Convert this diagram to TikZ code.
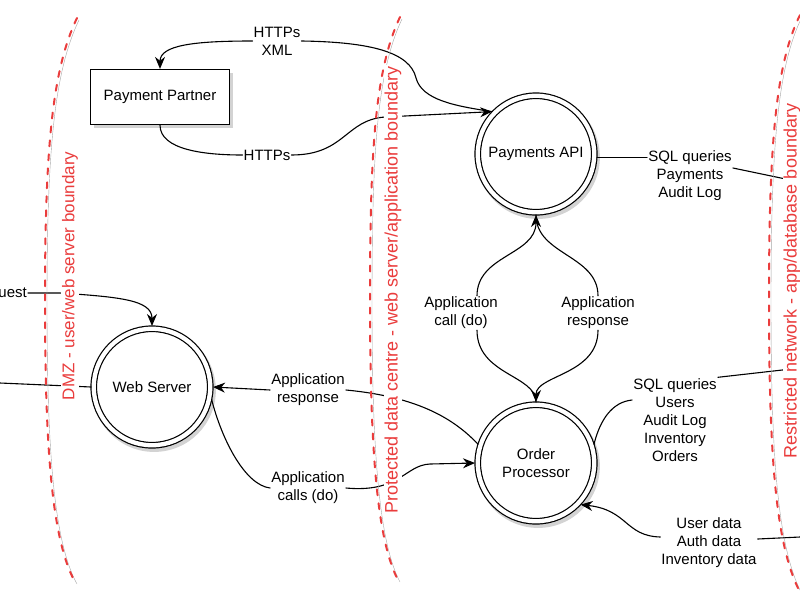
\documentclass[tikz,border=0pt]{standalone}
\usepackage{fontspec}
\setmainfont{Liberation Sans}
\usepackage{tikz}
\usetikzlibrary{arrows.meta}
\usetikzlibrary{shadows}

\begin{document}
\begin{tikzpicture}
	[x=1pt,y=-1pt,line cap=round,
	%Styles
	flow/.style={draw=black,line width=1.1pt},
	flow tip/.style={-{Stealth[length=12pt,width=10pt]}},
	flow text/.style={align=center,inner sep=1pt,font=\fontsize{15}{18}\selectfont},
	process/.style={circle,draw,double,double distance=4.3pt,line width=1.2pt,
		minimum size=116.5pt,outer sep=2.75pt,fill=white,align=center,
		font=\fontsize{15}{18}\selectfont,
		drop shadow={shadow xshift=2pt,shadow yshift=-3pt,shadow scale=1.06,opacity=0.35}},
	external entity/.style={rectangle,draw,line width=1.2pt,minimum width=139pt,
		minimum height=55pt,fill=white,font=\fontsize{15}{18}\selectfont,
		drop shadow={shadow xshift=3pt,shadow yshift=-3pt,opacity=0.35}},
	trust boundary/.style={draw=boundaryred,line width=2pt,dash pattern=on 6pt off 8pt,
		preaction={draw=black!35,transform canvas={shift={(2pt,-2pt)}}}},
	boundary text/.style={rotate=90,fill=white,inner sep=1pt,text=boundaryred,
		font=\fontsize{18}{20}\selectfont}
	]

	%Colors
	\definecolor{boundaryred}{RGB}{234,60,60}

	\useasboundingbox (0,0) rectangle (800,600);

	%The graphic
	\node[external entity] (partner) at (160,97) {Payment Partner};
	\node[process] (payapi) at (536,154) {Payments API};
	\node[process] (websrv) at (152,387) {Web Server};
	\node[process] (orderproc) at (536,463) {Order\\Processor};

	\node[flow text] (httpsxml) at (277,41) {HTTPs\\XML};
	\node[flow text] (https) at (267,155) {HTTPs};
	\node[flow text,anchor=east] (request) at (28,293) {uest};
	\node[flow text] (appresp) at (308,390) {Application\\response};
	\node[flow text] (appcalls) at (308,488) {Application\\calls (do)};
	\node[flow text] (appcall) at (461,313) {Application\\call (do)};
	\node[flow text] (payresp) at (598,313) {Application\\response};
	\node[flow text] (sqlpay) at (690,176) {SQL queries\\Payments\\Audit Log};
	\node[flow text] (sqlorder) at (675,420) {SQL queries\\Users\\Audit Log\\Inventory\\Orders};
	\node[flow text] (userdata) at (709,543) {User data\\Auth data\\Inventory data};

	\coordinate (client) at (0,383);
	\coordinate (paydb) at (800,182);
	\coordinate (orderdb) at (800,368);
	\coordinate (datadb) at (800,537);

	%Payment Partner
	\draw[flow] (payapi.136) .. controls (455,106) and (422,100) .. (416,78)
		.. controls (410,52) and (370,42) .. (httpsxml.east);
	\draw[flow,flow tip] (httpsxml.west) .. controls (195,41) and (160,45) .. (partner.north);
	\draw[flow] (partner.south) .. controls (160,150) and (205,155) .. (https.west);
	\draw[flow,flow tip] (https.east) .. controls (345,155) and (345,120) .. (385,117) -- (payapi.136);

	%Web Server
	\draw[flow,flow tip] (request.east) -- (60,293) .. controls (120,297) and (152,300) .. (websrv.north);
	\draw[flow] (client) -- (websrv.west);
	\draw[flow] (orderproc.162) .. controls (455,420) and (420,397) .. (appresp.east);
	\draw[flow,flow tip] (appresp.west) -- (websrv.east);
	\draw[flow] (websrv.-12) .. controls (222,440) and (245,485) .. (appcalls.west);
	\draw[flow,flow tip] (appcalls.east) .. controls (400,493) and (405,465) .. (430,464) -- (orderproc.west);

	%Payments API and Order Processor
	\draw[flow] (orderproc.north) .. controls (536,375) and (477,375) .. ([xshift=16pt]appcall.south);
	\draw[flow,flow tip] ([xshift=16pt]appcall.north) .. controls (477,255) and (536,255) .. (payapi.south);
	\draw[flow] (payapi.south) .. controls (536,255) and (598,255) .. (payresp.north);
	\draw[flow,flow tip] (payresp.south) .. controls (598,375) and (536,375) .. (orderproc.north);

	%Databases
	\draw[flow] (payapi.-3) -- (payapi.-3 -| sqlpay.west);
	\draw[flow] ([yshift=8pt]sqlpay.east) -- (paydb);
	\draw[flow] (orderproc.18) .. controls (600,420) and (612,402) .. ([yshift=20pt]sqlorder.west);
	\draw[flow] (sqlorder.north east) -- (orderdb);
	\draw[flow] (datadb) -- ([yshift=4pt]userdata.east);
	\draw[flow,flow tip] ([yshift=6pt]userdata.west) .. controls (625,536) and (628,510) .. (orderproc.-43);

	%Boundaries
	\draw[trust boundary] (77,18) .. controls (52,70) and (45,150) .. (45,300)
		.. controls (45,450) and (52,540) .. (75,582);
	\draw[trust boundary] (400,17) .. controls (375,70) and (370,150) .. (370,300)
		.. controls (370,450) and (377,540) .. (398,580);
	\draw[trust boundary] (800,15) .. controls (775,65) and (769,150) .. (769,300)
		.. controls (769,450) and (775,545) .. (800,592);
	\node[boundary text,font=\fontsize{17}{20}\selectfont] (dmz) at (70,276) {DMZ - user/web server boundary};
	\node[boundary text] (datacentre) at (393,290) {Protected data centre - web server/application boundary};
	\node[boundary text] (restricted) at (792,281) {Restricted network - app/database boundary};
\end{tikzpicture}
\end{document}
